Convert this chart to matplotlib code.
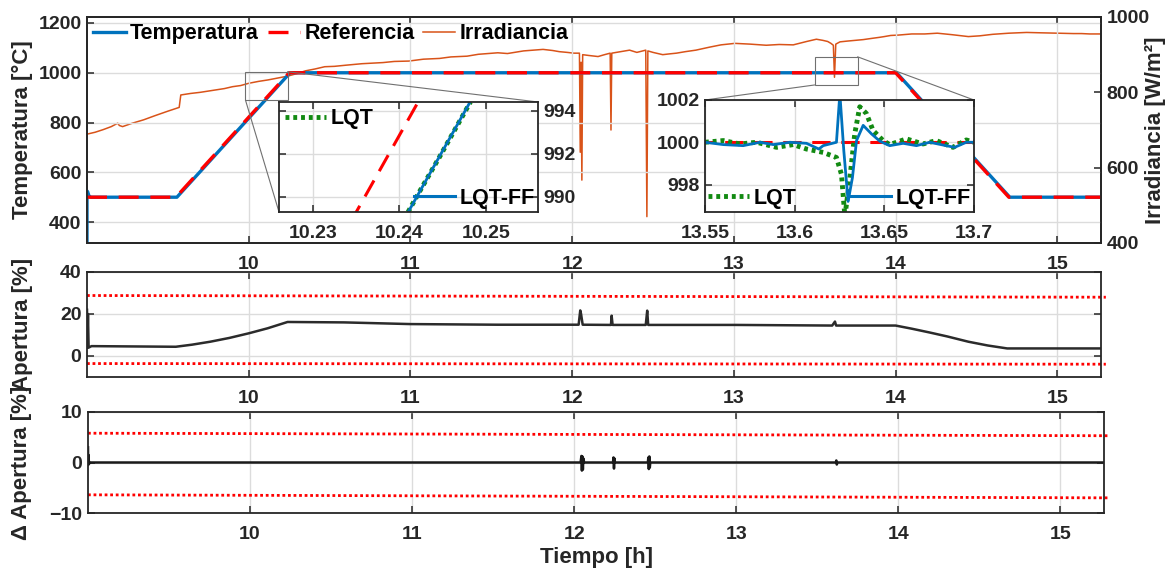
import numpy as np
import matplotlib
matplotlib.use("Agg")
import matplotlib.pyplot as plt
from matplotlib.patches import Rectangle, ConnectionPatch
from matplotlib.lines import Line2D

plt.rcParams['font.family'] = ['Liberation Sans', 'DejaVu Sans']
plt.rcParams['font.weight'] = 'bold'
plt.rcParams['axes.labelweight'] = 'bold'

# ---- data ----
# reference (set point) temperature
ref_t = [9.0, 9.55, 10.25, 14.0, 14.70, 15.27]
ref_v = [500, 500, 1000, 1000, 500, 500]

# measured temperature (LQT-FF)
temp_t = [9.000, 9.000, 9.004, 9.012, 9.025, 9.556, 10.256, 14.006, 14.706, 15.27]
temp_v = [300, 525, 522, 505, 500, 500, 1000, 1000, 500, 500]

# solar irradiance [W/m2]
irr_t = [9.00, 9.05, 9.10, 9.15, 9.19, 9.20, 9.22, 9.28, 9.35, 9.42,
         9.50, 9.57, 9.58, 9.64, 9.70, 9.79, 9.85, 9.90, 9.95, 10.00,
         10.06, 10.12, 10.18, 10.24, 10.30, 10.35, 10.41, 10.47, 10.53, 10.60,
         10.70, 10.83, 10.90, 10.99, 11.08, 11.18, 11.25, 11.35, 11.42, 11.54,
         11.60, 11.70, 11.76, 11.82, 11.88, 11.92, 11.97, 12.01, 12.045, 12.050,
         12.055, 12.060, 12.065, 12.10, 12.16, 12.20, 12.235, 12.240, 12.245, 12.30,
         12.355, 12.40, 12.455, 12.462, 12.468, 12.50, 12.56, 12.60, 12.645, 12.70,
         12.765, 12.85, 12.92, 13.006, 13.10, 13.20, 13.28, 13.367, 13.45, 13.51,
         13.55, 13.58, 13.60, 13.615, 13.622, 13.630, 13.656, 13.70, 13.75, 13.80,
         13.849, 13.90, 13.93, 13.97, 14.017, 14.10, 14.18, 14.258, 14.35, 14.45,
         14.52, 14.60, 14.70, 14.81, 14.90, 15.005, 15.10, 15.15, 15.20, 15.27]
irr_v = [689, 694, 701, 709, 718, 712, 709, 718, 727, 738,
         750, 760, 793, 797, 800, 806, 810, 815, 818, 824,
         829, 833, 838, 843, 850, 857, 862, 868, 869, 872,
         876, 879, 882, 883, 888, 890, 894, 896, 901, 905,
         903, 910, 912, 914, 911, 908, 906, 904, 904, 641,
         880, 567, 900, 898, 895, 900, 904, 700, 904, 908,
         912, 906, 912, 470, 910, 906, 900, 902, 904, 908,
         912, 920, 926, 930, 928, 925, 927, 926, 935, 941,
         938, 935, 930, 925, 840, 928, 934, 936, 938, 940,
         943, 946, 948, 951, 952, 955, 955, 957, 953, 948,
         950, 954, 957, 959, 958, 957, 956, 956, 955, 955]

# zoom 1: LQT controller on the ramp
lqt1_t = [10.2410, 10.2424, 10.2447, 10.2482]
lqt1_v = [989.3, 990.3, 991.9, 994.4]

# zoom 2: disturbance around 13.62 h
ff2_t = [13.55, 13.5602, 13.5713, 13.5806, 13.5881, 13.5973, 13.6066, 13.6135, 13.6159, 13.6233,
         13.6252, 13.6274, 13.6298, 13.6322, 13.6345, 13.6382, 13.6428, 13.6475, 13.653, 13.6605,
         13.6679, 13.6753, 13.6827, 13.6892, 13.6957, 13.70]
ff2_v = [1000, 999.89, 999.84, 1000, 999.89, 1000, 999.95, 999.68, 999.84, 1000,
         1002.3, 999.6, 997.2, 998.32, 1000.08, 1000.8, 1000.4, 1000.05, 999.84, 999.95,
         999.84, 1000, 999.87, 999.76, 1000, 1000]
lqt2_t = [13.55, 13.5602, 13.5695, 13.5788, 13.5899, 13.5992, 13.6066, 13.6159, 13.6233, 13.6261,
          13.628, 13.6308, 13.6335, 13.6363, 13.64, 13.6437, 13.6493, 13.653, 13.6623, 13.6716,
          13.679, 13.6883, 13.6957, 13.70]
lqt2_v = [1000, 1000.08, 999.92, 1000, 999.76, 999.89, 999.68, 999.52, 999.28, 998.48,
          996.5, 998.32, 1000.4, 1001.68, 1001.36, 1000.56, 1000.08, 999.89, 1000.16, 999.92,
          1000.08, 999.76, 1000.11, 1000]

# valve opening [%]
ap_t = [9.000, 9.002, 9.006, 9.010, 9.028, 9.549, 9.65, 9.762, 9.88, 10.0,
        10.117, 10.24, 10.59, 11.0, 11.536, 12.040, 12.050, 12.055, 12.065, 12.24,
        12.244, 12.250, 12.455, 12.464, 12.470, 13.006, 13.608, 13.625, 13.632, 14.0,
        14.1, 14.21, 14.32, 14.45, 14.57, 14.69, 15.27]
ap_v = [22, 4, 20, 4, 4.7, 4.4, 5.4, 6.8, 8.6, 10.8,
        13.2, 16.2, 16.0, 15.2, 14.9, 14.9, 21.7, 20, 14.9, 14.8,
        19.2, 14.8, 14.8, 21.6, 14.8, 14.8, 14.5, 16.4, 14.5, 14.5,
        13.0, 11.2, 9.3, 6.8, 5.0, 3.6, 3.6]

# valve opening increment [%]
dap_t = [9.000, 9.001, 9.003, 9.006, 9.010, 12.040, 12.045, 12.048, 12.051, 12.054,
         12.057, 12.062, 12.240, 12.243, 12.246, 12.249, 12.252, 12.455, 12.458, 12.461,
         12.464, 12.467, 12.470, 13.615, 13.618, 13.621, 13.625, 15.27]
dap_v = [3.0, -0.5, 1.5, -0.3, 0, 0, 1.3, -1.6, 1.2, -1.4,
         0.8, 0, 0, 1.0, -1.2, 0.8, 0, 0, 1.0, -1.3,
         1.2, -1.0, 0, 0, 0.4, -0.4, 0, 0]

# constraint lines
lim_t = [9.0, 15.3]
ap_max = [28.8, 28.0]
ap_min = [-3.6, -3.9]
dap_max = [5.8, 5.3]
dap_min = [-6.4, -7.0]

x_ticks = [10, 11, 12, 13, 14, 15]

# ---- styles ----
BLUE = '#0072BD'
ORANGE = '#D95319'
GREEN = '#128a12'
SPINE = '#262626'
GRID = '#dcdcdc'
DASH = (0, (6, 3.5))
DOT = (0, (0.8, 0.8))
W, H = 1171, 575


def fig_rect(left, top, right, bottom):
    return [left / W, 1 - bottom / H, (right - left) / W, (bottom - top) / H]


def style_axes(ax, size=14):
    for s in ax.spines.values():
        s.set_color(SPINE)
        s.set_linewidth(1.3)
    ax.tick_params(direction='in', length=5, width=1.1, color=SPINE,
                   labelsize=size, pad=4, labelcolor=SPINE)
    ax.tick_params(axis='x', pad=9.5)
    ax.grid(True, color=GRID, lw=1.0)
    ax.set_axisbelow(True)
    for lab in ax.get_xticklabels() + ax.get_yticklabels():
        lab.set_fontweight('bold')


fig = plt.figure(figsize=(W / 100, H / 100), dpi=100)

# ---- top: temperature + irradiance ----
ax1 = fig.add_axes(fig_rect(87, 17, 1101, 243))
ax1r = ax1.twinx()
ax1.set_zorder(ax1r.get_zorder() + 1)
ax1.patch.set_visible(False)

l_irr, = ax1r.plot(irr_t, irr_v, color=ORANGE, lw=1.1)
l_temp, = ax1.plot(temp_t, temp_v, color=BLUE, lw=2.4)
l_ref, = ax1.plot(ref_t, ref_v, color='red', lw=2.4, ls=DASH)

ax1.set_xlim(9.0, 15.27)
ax1.set_ylim(316, 1224)
ax1.set_yticks([400, 600, 800, 1000, 1200])
ax1.set_xticks(x_ticks)
ax1r.set_ylim(400, 1000)
ax1r.set_yticks([400, 600, 800, 1000])
style_axes(ax1)
style_axes(ax1r)
ax1r.grid(False)
ax1.tick_params(top=True, right=False)
ax1r.tick_params(left=False, right=True)
ax1.set_ylabel('Temperatura [°C]', fontsize=16, color=SPINE)
ax1.yaxis.set_label_coords(-0.053, 0.5)
ax1r.set_ylabel('Irradiancia [W/m²]', fontsize=16, color=SPINE)
ax1r.yaxis.set_label_coords(1.043, 0.5)

ax1.legend([l_temp, l_ref, l_irr], ['Temperatura', 'Referencia', 'Irradiancia'],
           loc='upper left', ncol=3, frameon=False, fontsize=15.5,
           handlelength=1.5, handletextpad=0.2, columnspacing=0.4,
           borderaxespad=0.1, borderpad=0.2, labelcolor='black')

# zoom boxes on main axes
ax1.add_patch(Rectangle((9.98, 890), 0.26, 114, fill=False, ec='#707070', lw=0.8, zorder=5))
ax1.add_patch(Rectangle((13.50, 951), 0.265, 113, fill=False, ec='#707070', lw=0.8, zorder=5))

# ---- inset 1 ----
axi1 = fig.add_axes(fig_rect(279, 102, 538, 212))
axi1.set_zorder(10)
axi1.plot(ref_t, ref_v, color='red', lw=2.2, ls=DASH)
axi1.plot(lqt1_t, lqt1_v, color=GREEN, lw=3.5, ls=DOT)
axi1.plot(temp_t, temp_v, color=BLUE, lw=2.0)
axi1.set_xlim(10.2261, 10.256)
axi1.set_ylim(989.3, 994.4)
axi1.set_xticks([10.23, 10.24, 10.25])
axi1.set_yticks([990, 992, 994])
style_axes(axi1)
axi1.tick_params(left=True, right=True, top=True, labelleft=False, labelright=True)
h_lqt = Line2D([], [], color=GREEN, lw=3.5, ls=DOT)
h_ff = Line2D([], [], color=BLUE, lw=2.2)
leg = axi1.legend([h_lqt], ['LQT'], loc='upper left', frameon=False, fontsize=15.5,
                  handlelength=1.9, handletextpad=0.2, borderaxespad=0.1, borderpad=0.2)
axi1.add_artist(leg)
axi1.legend([h_ff], ['LQT-FF'], loc='lower right', frameon=False, fontsize=15.5,
            handlelength=1.9, handletextpad=0.2, borderaxespad=0.0, borderpad=0.15)

# ---- inset 2 ----
axi2 = fig.add_axes(fig_rect(705, 100, 974, 212))
axi2.set_zorder(10)
axi2.plot(ref_t, ref_v, color='red', lw=2.2, ls=DASH)
axi2.plot(lqt2_t, lqt2_v, color=GREEN, lw=3.5, ls=DOT)
axi2.plot(ff2_t, ff2_v, color=BLUE, lw=2.0)
axi2.set_xlim(13.55, 13.70)
axi2.set_ylim(996.7, 1002.0)
axi2.set_xticks([13.55, 13.6, 13.65, 13.7])
axi2.set_xticklabels(['13.55', '13.6', '13.65', '13.7'])
axi2.set_yticks([998, 1000, 1002])
style_axes(axi2)
axi2.tick_params(left=True, right=True, top=True)
leg = axi2.legend([h_lqt], ['LQT'], loc='lower left', frameon=False, fontsize=15.5,
                  handlelength=1.9, handletextpad=0.2, borderaxespad=0.0, borderpad=0.15)
axi2.add_artist(leg)
axi2.legend([h_ff], ['LQT-FF'], loc='lower right', frameon=False, fontsize=15.5,
            handlelength=1.9, handletextpad=0.2, borderaxespad=0.0, borderpad=0.15)

# connector lines from zoom boxes to insets
for xyA, axB, xyB in [((9.98, 890), axi1, (0, 0)), ((10.24, 1004), axi1, (1, 1)),
                      ((13.50, 951), axi2, (0, 1)), ((13.765, 1064), axi2, (1, 1))]:
    con = ConnectionPatch(xyA=xyA, coordsA=ax1.transData, xyB=xyB, coordsB=axB.transAxes,
                          color='#707070', lw=0.8)
    con.set_zorder(9)
    fig.add_artist(con)

# ---- middle: valve opening ----
ax2 = fig.add_axes(fig_rect(87, 272, 1101, 377))
ax2.plot(ap_t, ap_v, color='#2b2b2b', lw=1.8)
ax2.plot(lim_t, ap_max, color='red', lw=2.0, ls=(0, (1, 1)), clip_on=False)
ax2.plot(lim_t, ap_min, color='red', lw=2.0, ls=(0, (1, 1)), clip_on=False)
ax2.set_xlim(9.0, 15.27)
ax2.set_ylim(-10, 40)
ax2.set_yticks([0, 20, 40])
ax2.set_xticks(x_ticks)
style_axes(ax2)
ax2.tick_params(top=True, right=True)
ax2.set_ylabel('Apertura [%]', fontsize=16, color=SPINE)
ax2.yaxis.set_label_coords(-0.053, 0.5)

# ---- bottom: valve opening increment ----
ax3 = fig.add_axes(fig_rect(88, 412, 1104, 513))
ax3.plot(dap_t, dap_v, color='#1a1a1a', lw=1.8)
ax3.plot(lim_t, dap_max, color='red', lw=2.0, ls=(0, (1, 1)), clip_on=False)
ax3.plot(lim_t, dap_min, color='red', lw=2.0, ls=(0, (1, 1)), clip_on=False)
ax3.set_xlim(9.0, 15.27)
ax3.set_ylim(-10, 10)
ax3.set_yticks([-10, 0, 10])
ax3.set_xticks(x_ticks)
style_axes(ax3)
ax3.tick_params(top=True, right=True)
ax3.set_ylabel('Δ Apertura [%]', fontsize=16, color=SPINE)
ax3.yaxis.set_label_coords(-0.055, 0.5)
ax3.set_xlabel('Tiempo [h]', fontsize=16, color=SPINE, labelpad=3)

fig.savefig('out.png', dpi=100)
